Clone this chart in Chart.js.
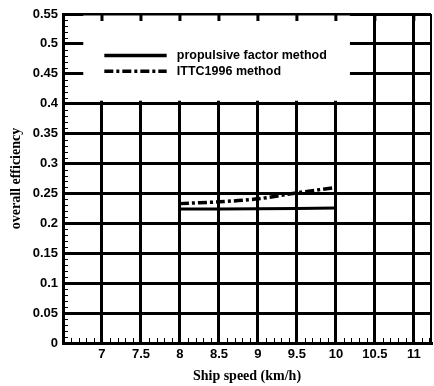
<!DOCTYPE html>
<html>
<head>
<meta charset="utf-8">
<script src="https://cdn.jsdelivr.net/npm/chart.js@4.4.0/dist/chart.umd.min.js"></script>
<style>
  html, body { margin: 0; padding: 0; background: #fff; }
  #wrap { width: 434px; height: 386px; position: relative; }
</style>
</head>
<body>
<div id="wrap"><canvas id="c" width="434" height="386"></canvas></div>
<script>
const speeds = [8, 8.5, 9, 9.5, 10];
const propulsiveFactor = [0.224, 0.224, 0.2245, 0.225, 0.2255];
const ittc1996 = [0.233, 0.236, 0.241, 0.251, 0.260];
const xTicks = [7, 7.5, 8, 8.5, 9, 9.5, 10, 10.5, 11];
const yTicks = [0, 0.05, 0.1, 0.15, 0.2, 0.25, 0.3, 0.35, 0.4, 0.45, 0.5, 0.55];
const seriesNames = ['propulsive factor method', 'ITTC1996 method'];
const xTitle = 'Ship speed (km/h)';
const yTitle = 'overall efficiency';

const DASHDOT = [9, 3, 3, 3];

const overlay = {
  id: 'overlay',
  beforeDatasetsDraw(chart) {
    const ctx = chart.ctx;
    const a = chart.chartArea;
    const xs = chart.scales.x, ys = chart.scales.y;
    ctx.save();
    // legend box (white, masks grid)
    const bx0 = xs.getPixelForValue(6.76), bx1 = xs.getPixelForValue(10.18);
    const by0 = a.top + 1.5, by1 = ys.getPixelForValue(0.405);
    ctx.fillStyle = '#fff';
    ctx.fillRect(bx0, by0, bx1 - bx0, by1 - by0);
    // top & right border
    ctx.strokeStyle = '#000';
    ctx.lineWidth = 2;
    ctx.beginPath();
    ctx.moveTo(a.left, a.top); ctx.lineTo(a.right, a.top);
    ctx.moveTo(a.right, a.top); ctx.lineTo(a.right, a.bottom);
    ctx.stroke();
    // top major ticks
    ctx.lineWidth = 3;
    ctx.beginPath();
    xTicks.forEach(v => { const px = xs.getPixelForValue(v); ctx.moveTo(px, a.top); ctx.lineTo(px, a.top + 7); });
    ctx.stroke();
    // minor ticks left and bottom
    ctx.lineWidth = 1;
    ctx.beginPath();
    for (let i = 1; i < 55; i++) {
      if (i % 5 === 0) continue;
      const py = Math.round(ys.getPixelForValue(i / 100)) + 0.5;
      ctx.moveTo(a.left, py); ctx.lineTo(a.left + 5, py);
    }
    for (let i = 66; i <= 112; i++) {
      if (i % 5 === 0) continue;
      const px = Math.round(xs.getPixelForValue(i / 10)) + 0.5;
      ctx.moveTo(px, a.bottom); ctx.lineTo(px, a.bottom - 5);
    }
    ctx.stroke();
    // legend entries
    const lx0 = xs.getPixelForValue(7.03), lx1 = xs.getPixelForValue(7.83);
    const tx = xs.getPixelForValue(7.96);
    const rows = [ys.getPixelForValue(0.4805), ys.getPixelForValue(0.4545)];
    ctx.font = 'bold 12.5px "Liberation Sans", Arial, sans-serif';
    ctx.fillStyle = '#000';
    ctx.textBaseline = 'middle';
    ctx.textAlign = 'left';
    rows.forEach((ry, i) => {
      ctx.lineWidth = 3.5;
      ctx.setLineDash(i === 0 ? [] : DASHDOT);
      ctx.beginPath();
      ctx.moveTo(lx0, ry); ctx.lineTo(lx1, ry);
      ctx.stroke();
      ctx.setLineDash([]);
      ctx.fillText(seriesNames[i], tx, ry);
    });
    ctx.restore();
  }
};

new Chart(document.getElementById('c'), {
  type: 'line',
  data: {
    datasets: [
      {
        label: seriesNames[0],
        data: speeds.map((s, i) => ({ x: s, y: propulsiveFactor[i] })),
        borderColor: '#000', borderWidth: 3, pointRadius: 0, fill: false, tension: 0
      },
      {
        label: seriesNames[1],
        data: speeds.map((s, i) => ({ x: s, y: ittc1996[i] })),
        borderColor: '#000', borderWidth: 3.5, borderDash: DASHDOT, pointRadius: 0, fill: false, tension: 0.3
      }
    ]
  },
  options: {
    responsive: false,
    animation: false,
    devicePixelRatio: 1,
    layout: { padding: { top: 14, right: 3, left: 0, bottom: 0 } },
    plugins: { legend: { display: false }, tooltip: { enabled: false } },
    scales: {
      x: {
        type: 'linear', min: 6.5, max: 11.22,
        afterBuildTicks: s => { s.ticks = xTicks.map(v => ({ value: v })); },
        afterFit: s => { s.height = 43; },
        grid: { color: '#000', lineWidth: 3, drawTicks: false },
        border: { display: true, color: '#000', width: 3 },
        ticks: {
          color: '#000', padding: 4, maxRotation: 0, autoSkip: false,
          font: { family: '"Liberation Sans", Arial, sans-serif', size: 13, weight: 'bold' },
          callback: v => String(v)
        },
        title: {
          display: true, text: xTitle, color: '#000', padding: { top: 0, bottom: 1 },
          font: { family: '"Liberation Serif", "Times New Roman", serif', size: 14, weight: 'bold' }
        }
      },
      y: {
        type: 'linear', min: 0, max: 0.55,
        afterBuildTicks: s => { s.ticks = yTicks.map(v => ({ value: v })); },
        afterFit: s => { s.width = 63; },
        grid: { color: '#000', lineWidth: 3, drawTicks: false },
        border: { display: true, color: '#000', width: 3 },
        ticks: {
          color: '#000', padding: 5, autoSkip: false,
          font: { family: '"Liberation Sans", Arial, sans-serif', size: 13, weight: 'bold' },
          callback: v => String(v)
        },
        title: {
          display: true, text: yTitle, color: '#000', padding: { top: 8, bottom: 0 },
          font: { family: '"Liberation Serif", "Times New Roman", serif', size: 14, weight: 'bold' }
        }
      }
    }
  },
  plugins: [overlay]
});
</script>
</body>
</html>
